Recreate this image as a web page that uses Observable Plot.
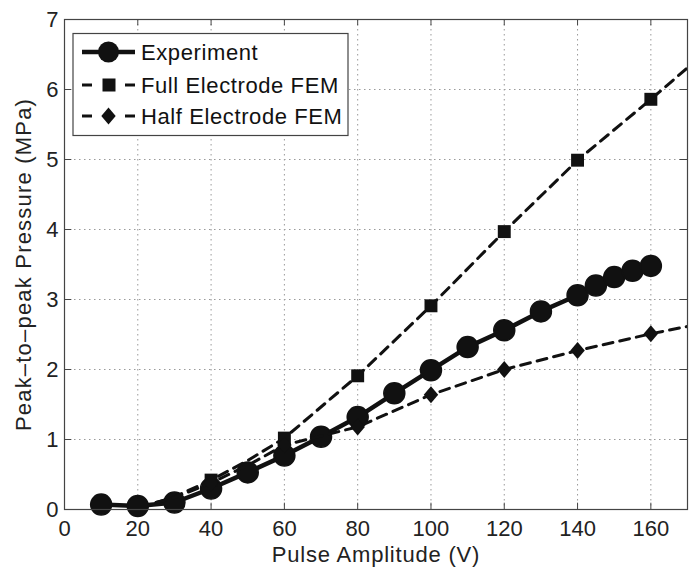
<!DOCTYPE html>
<html>
<head>
<meta charset="utf-8">
<script src="https://cdn.jsdelivr.net/npm/d3@7"></script>
<script src="https://cdn.jsdelivr.net/npm/@observablehq/plot@0.6"></script>
<style>
  html, body { margin: 0; padding: 0; background: #fff; }
  #chart { width: 693px; height: 567px; }
</style>
</head>
<body>
<div id="chart"></div>
<script>
// ---- data ----
const xTicks = [0, 20, 40, 60, 80, 100, 120, 140, 160];
const yTicks = [0, 1, 2, 3, 4, 5, 6, 7];

const expX = [10, 20, 30, 40, 50, 60, 70, 80, 90, 100, 110, 120, 130, 140, 145, 150, 155, 160];
const expY = [0.07, 0.05, 0.10, 0.30, 0.53, 0.77, 1.04, 1.32, 1.66, 1.99, 2.32, 2.56, 2.83, 3.06, 3.20, 3.32, 3.41, 3.48];

const fullX = [25, 30, 40, 50, 60, 80, 100, 120, 140, 160, 180];
const fullY = [0.10, 0.18, 0.42, 0.70, 1.02, 1.91, 2.91, 3.97, 4.99, 5.86, 6.76];

const halfX = [25, 30, 40, 50, 60, 80, 100, 120, 140, 160, 180];
const halfY = [0.10, 0.17, 0.38, 0.63, 0.92, 1.18, 1.64, 2.00, 2.27, 2.51, 2.72];

const seriesNames = ["Experiment", "Full Electrode FEM", "Half Electrode FEM"];

// ---- tables ----
const exp = expX.map((x, i) => ({x, y: expY[i]}));
const full = fullX.map((x, i) => ({x, y: fullY[i]}));
const half = halfX.map((x, i) => ({x, y: halfY[i]}));
const markerFilter = d => d.x % 20 === 0 && d.x >= 40 && d.x <= 170;

const diamond = {
  draw(ctx, size) {
    const r = Math.sqrt(size / Math.PI);
    ctx.moveTo(0, -r);
    ctx.lineTo(0.85 * r, 0);
    ctx.lineTo(0, r);
    ctx.lineTo(-0.85 * r, 0);
    ctx.closePath();
  }
};

const ink = "#111";
const font = "'Liberation Sans', Arial, Helvetica, sans-serif";
const fmt = d3.format("d");

const chart = Plot.plot({
  width: 693,
  height: 567,
  marginLeft: 64,
  marginRight: 6,
  marginTop: 19,
  marginBottom: 58,
  style: {fontFamily: font, fontSize: "22px", color: "#222", background: "#fff"},
  x: {domain: [0, 170], ticks: xTicks, tickFormat: fmt, label: "Pulse Amplitude (V)"},
  y: {domain: [0, 7], ticks: yTicks, tickFormat: fmt, label: "Peak\u2013to\u2013peak Pressure (MPa)"},
  marks: [
    Plot.gridX(xTicks, {stroke: "#999", strokeOpacity: 1, strokeDasharray: "1.5,3.5"}),
    Plot.gridY(yTicks, {stroke: "#999", strokeOpacity: 1, strokeDasharray: "1.5,3.5"}),
    Plot.axisX(xTicks, {tickSize: 0, tickPadding: 11, tickFormat: fmt, label: "Pulse Amplitude (V)", labelAnchor: "center", labelArrow: "none", labelOffset: 52, fontSize: 22}),
    Plot.axisY(yTicks, {tickSize: 0, tickPadding: 6, tickFormat: fmt, label: "Peak\u2013to\u2013peak Pressure (MPa)", labelAnchor: "center", labelArrow: "none", labelOffset: 49, fontSize: 22}),
    // inward ticks
    Plot.ruleX(xTicks, {x: d => d, y1: 0, y2: 0.09, stroke: "#444"}),
    Plot.ruleX(xTicks, {x: d => d, y1: 6.91, y2: 7, stroke: "#444"}),
    Plot.ruleY(yTicks, {y: d => d, x1: 0, x2: 2, stroke: "#444"}),
    Plot.ruleY(yTicks, {y: d => d, x1: 168, x2: 170, stroke: "#444"}),
    // experiment
    Plot.line(exp, {x: "x", y: "y", stroke: ink, strokeWidth: 4.5, clip: true}),
    Plot.dot(exp, {x: "x", y: "y", r: 10.5, fill: ink, stroke: ink, symbol: "circle"}),
    // full electrode FEM
    Plot.line(full, {x: "x", y: "y", stroke: ink, strokeWidth: 3, strokeDasharray: "10,7", clip: true}),
    Plot.dot(full.filter(markerFilter), {x: "x", y: "y", r: 7.3, fill: ink, symbol: "square"}),
    // half electrode FEM
    Plot.line(half, {x: "x", y: "y", stroke: ink, strokeWidth: 3, strokeDasharray: "10,7", clip: true}),
    Plot.dot(half.filter(markerFilter), {x: "x", y: "y", r: 8.5, fill: ink, symbol: diamond}),
    Plot.frame({stroke: "#444", strokeWidth: 1.2})
  ]
});

document.getElementById("chart").appendChild(chart);

const svg = d3.select(chart);
svg.selectAll("g[aria-label='x-axis label'] text").attr("letter-spacing", "0.8px");
svg.selectAll("g[aria-label='y-axis label'] text").attr("letter-spacing", "1.2px");

// ---- legend (inside plot area, top-left) ----
const lg = svg.append("g").attr("font-family", font).attr("font-size", 22)
  .attr("fill", ink).attr("text-anchor", "start");
lg.append("rect").attr("x", 73).attr("y", 33.5).attr("width", 275).attr("height", 102)
  .attr("fill", "#fff").attr("stroke", "#444").attr("stroke-width", 1.2);
const rows = [52, 85, 116];
lg.append("line").attr("x1", 82).attr("x2", 135).attr("y1", rows[0]).attr("y2", rows[0])
  .attr("stroke", ink).attr("stroke-width", 4.5);
lg.append("circle").attr("cx", 108.5).attr("cy", rows[0]).attr("r", 10.5).attr("fill", ink);
[1, 2].forEach(i => {
  lg.append("line").attr("x1", 82).attr("x2", 92).attr("y1", rows[i]).attr("y2", rows[i])
    .attr("stroke", ink).attr("stroke-width", 3);
  lg.append("line").attr("x1", 125).attr("x2", 135).attr("y1", rows[i]).attr("y2", rows[i])
    .attr("stroke", ink).attr("stroke-width", 3);
});
lg.append("rect").attr("x", 102.5).attr("y", rows[1] - 6.5).attr("width", 13).attr("height", 13).attr("fill", ink);
lg.append("path").attr("d", `M108.5,${rows[2]-8.5}L115.7,${rows[2]}L108.5,${rows[2]+8.5}L101.3,${rows[2]}Z`).attr("fill", ink);
seriesNames.forEach((name, i) => {
  lg.append("text").attr("x", 141).attr("y", rows[i]).attr("dy", "0.36em")
    .attr("letter-spacing", "0.6px").text(name);
});
</script>
</body>
</html>
